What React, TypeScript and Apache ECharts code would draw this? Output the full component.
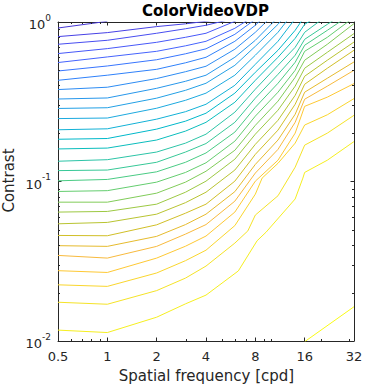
import { useEffect, useRef } from 'react';
import * as echarts from 'echarts';

// ---- Contour lines: [spatial frequency (cpd), contrast] ----
const line01 = [[0.5, 0.917], [1, 1.01]];
const line02 = [[0.5, 0.81], [1, 0.858], [2, 0.936], [3, 0.974], [4, 1.01], [6, 1.07]];
const line03 = [[0.5, 0.725], [1, 0.768], [2, 0.85], [3, 0.907], [4, 0.954], [6, 1.055]];
const line04 = [[0.5, 0.634], [1, 0.681], [2, 0.746], [3, 0.802], [4, 0.85], [6, 1.01], [8, 1.184]];
const line05 = [[0.5, 0.557], [1, 0.604], [2, 0.655], [3, 0.709], [4, 0.757], [6, 0.913], [8, 1.101]];
const line06 = [[0.5, 0.493], [1, 0.53], [2, 0.58], [3, 0.632], [4, 0.679], [6, 0.837], [8, 1.04]];
const line07 = [[0.5, 0.431], [1, 0.464], [2, 0.505], [3, 0.555], [4, 0.601], [6, 0.757], [8, 0.954], [11, 1.31]];
const line08 = [[0.5, 0.377], [1, 0.39], [2, 0.442], [3, 0.488], [4, 0.528], [6, 0.675], [8, 0.862], [11, 1.184]];
const line09 = [[0.5, 0.329], [1, 0.334], [2, 0.384], [3, 0.425], [4, 0.464], [6, 0.601], [8, 0.768], [11, 1.07], [14, 1.368]];
const line10 = [[0.5, 0.287], [1, 0.29], [2, 0.333], [3, 0.373], [4, 0.413], [6, 0.535], [8, 0.704], [11, 0.967], [14, 1.29]];
const line11 = [[0.5, 0.248], [1, 0.25], [2, 0.288], [3, 0.323], [4, 0.358], [6, 0.464], [8, 0.619], [11, 0.862], [14, 1.184]];
const line12 = [[0.5, 0.211], [1, 0.214], [2, 0.246], [3, 0.274], [4, 0.305], [6, 0.401], [8, 0.543], [11, 0.757], [14, 1.047]];
const line13 = [[0.5, 0.184], [1, 0.186], [2, 0.213], [3, 0.239], [4, 0.268], [6, 0.358], [8, 0.484], [11, 0.665], [14, 0.887], [16, 1.086]];
const line14 = [[0.5, 0.16], [1, 0.162], [2, 0.182], [3, 0.207], [4, 0.235], [6, 0.314], [8, 0.431], [11, 0.601], [14, 0.79], [16, 0.967], [22, 1.184]];
const line15 = [[0.5, 0.134], [1, 0.137], [2, 0.153], [3, 0.174], [4, 0.198], [6, 0.272], [8, 0.379], [11, 0.535], [14, 0.694], [16, 0.862], [22, 1.101]];
const line16 = [[0.5, 0.117], [1, 0.118], [2, 0.132], [3, 0.153], [4, 0.173], [6, 0.235], [8, 0.333], [11, 0.47], [14, 0.619], [16, 0.779], [22, 0.967], [32, 1.236]];
const line17 = [[0.5, 0.101], [1, 0.103], [2, 0.115], [3, 0.132], [4, 0.151], [6, 0.204], [8, 0.292], [11, 0.413], [14, 0.559], [16, 0.715], [22, 0.887], [32, 1.15]];
const line18 = [[0.5, 0.0866], [1, 0.0876], [2, 0.0991], [3, 0.114], [4, 0.131], [6, 0.179], [8, 0.257], [11, 0.363], [14, 0.498], [16, 0.655], [22, 0.802], [32, 1.07]];
const line19 = [[0.5, 0.0742], [1, 0.0742], [2, 0.0845], [3, 0.0991], [4, 0.116], [6, 0.157], [8, 0.225], [11, 0.319], [14, 0.45], [16, 0.576], [22, 0.725], [32, 0.977]];
const line20 = [[0.5, 0.0643], [1, 0.0649], [2, 0.0721], [3, 0.0857], [4, 0.1005], [6, 0.138], [8, 0.198], [11, 0.28], [14, 0.396], [16, 0.513], [22, 0.646], [32, 0.846]];
const line21 = [[0.5, 0.0543], [1, 0.0554], [2, 0.0624], [3, 0.0737], [4, 0.0857], [6, 0.118], [8, 0.171], [11, 0.242], [14, 0.347], [16, 0.457], [22, 0.576], [32, 0.749]];
const line22 = [[0.5, 0.0459], [1, 0.0457], [2, 0.0535], [3, 0.0633], [4, 0.0721], [6, 0.1005], [8, 0.148], [11, 0.21], [14, 0.305], [16, 0.407], [22, 0.513], [32, 0.665]];
const line23 = [[0.5, 0.0396], [1, 0.0392], [2, 0.0453], [3, 0.0537], [4, 0.0624], [6, 0.0864], [8, 0.128], [11, 0.182], [14, 0.264], [16, 0.363], [22, 0.444], [32, 0.562]];
const line24 = [[0.5, 0.0344], [1, 0.0331], [2, 0.0392], [3, 0.0468], [4, 0.0537], [6, 0.0753], [8, 0.113], [11, 0.159], [14, 0.235], [16, 0.328], [22, 0.396], [32, 0.498]];
const line25 = [[0.5, 0.0276], [1, 0.0269], [2, 0.0331], [3, 0.0393], [4, 0.0455], [6, 0.0643], [8, 0.1005], [11, 0.136], [14, 0.201], [16, 0.296], [22, 0.338], [32, 0.411]];
const line26 = [[0.5, 0.0225], [1, 0.022], [2, 0.0267], [3, 0.0319], [4, 0.0371], [6, 0.0529], [8, 0.0833], [8.8, 0.105], [11, 0.13], [14, 0.174], [16, 0.226], [22, 0.262], [32, 0.331]];
const line27 = [[0.5, 0.0175], [1, 0.017], [2, 0.0207], [3, 0.0248], [4, 0.0295], [6, 0.0411], [7.2, 0.049], [8, 0.0616], [11, 0.0814], [14, 0.123], [16, 0.169], [22, 0.201], [32, 0.26]];
const line28 = [[0.5, 0.0117], [1, 0.0113], [2, 0.0141], [3, 0.0171], [4, 0.0194], [6.3, 0.0275], [8.2, 0.0425], [9.3, 0.0481], [14, 0.0777], [15.6, 0.105], [16, 0.114], [22, 0.136], [32, 0.178]];
const line29 = [[16, 0.0099], [32, 0.0164]];

const contours = [
  line01, line02, line03, line04, line05, line06, line07, line08, line09, line10,
  line11, line12, line13, line14, line15, line16, line17, line18, line19, line20,
  line21, line22, line23, line24, line25, line26, line27, line28, line29,
];

// ---- Axis ticks ----
const xMajorTicks = [0.5, 1, 2, 4, 8, 16, 32];
const yMajorTicks = [0.01, 0.1, 1];
const xMinorTicks = [0.6, 0.7, 0.8, 0.9, 3, 5, 6, 7, 9, 10, 20, 30];
const yMinorTicks = [0.02, 0.03, 0.04, 0.05, 0.06, 0.07, 0.08, 0.09, 0.2, 0.3, 0.4, 0.5, 0.6, 0.7, 0.8, 0.9];

// ---- Colormap (parula, 64) ----
const PARULA = [
  [0.2422, 0.1504, 0.6603], [0.2504, 0.165, 0.7076], [0.2578, 0.1818, 0.7511], [0.2647, 0.1978, 0.7952],
  [0.2706, 0.2147, 0.8364], [0.2751, 0.2342, 0.871], [0.2783, 0.2559, 0.8991], [0.2803, 0.2782, 0.9221],
  [0.2813, 0.3006, 0.9414], [0.281, 0.3228, 0.9579], [0.2795, 0.3447, 0.9717], [0.276, 0.3667, 0.9829],
  [0.2699, 0.3892, 0.9906], [0.2602, 0.4123, 0.9952], [0.244, 0.4358, 0.9988], [0.2206, 0.4603, 0.9973],
  [0.1963, 0.4847, 0.9892], [0.1834, 0.5074, 0.9798], [0.1786, 0.5289, 0.9682], [0.1764, 0.5499, 0.952],
  [0.1687, 0.5703, 0.9359], [0.154, 0.5902, 0.9218], [0.146, 0.6091, 0.9079], [0.138, 0.6276, 0.8973],
  [0.1248, 0.6459, 0.8883], [0.1113, 0.6635, 0.8763], [0.0952, 0.6798, 0.8598], [0.0689, 0.6948, 0.8394],
  [0.0297, 0.7082, 0.8163], [0.0036, 0.7203, 0.7917], [0.0067, 0.7312, 0.766], [0.0433, 0.7411, 0.7394],
  [0.0964, 0.75, 0.712], [0.1408, 0.7584, 0.6842], [0.1717, 0.767, 0.6554], [0.1938, 0.7758, 0.6251],
  [0.2161, 0.7843, 0.5923], [0.247, 0.7918, 0.5567], [0.2906, 0.7973, 0.5188], [0.3406, 0.8008, 0.4789],
  [0.3909, 0.8029, 0.4354], [0.4456, 0.8024, 0.3909], [0.5044, 0.7993, 0.348], [0.5616, 0.7942, 0.3045],
  [0.6174, 0.7876, 0.2612], [0.672, 0.7793, 0.2227], [0.7242, 0.7698, 0.191], [0.7738, 0.7598, 0.1646],
  [0.8203, 0.7498, 0.1535], [0.8634, 0.7406, 0.1596], [0.9035, 0.733, 0.1774], [0.9393, 0.7288, 0.21],
  [0.9728, 0.7298, 0.2394], [0.9956, 0.7434, 0.2371], [0.997, 0.7659, 0.2199], [0.9952, 0.7893, 0.2028],
  [0.9892, 0.8136, 0.1885], [0.9786, 0.8386, 0.1766], [0.9676, 0.8639, 0.1643], [0.961, 0.889, 0.1537],
  [0.9597, 0.9135, 0.1423], [0.9628, 0.9373, 0.1265], [0.9691, 0.9606, 0.1064], [0.9769, 0.9839, 0.0805],
];

function parula(idx: number): string {
  const [r, g, b] = PARULA[Math.max(0, Math.min(63, Math.round(idx)))];
  return `rgb(${Math.round(r * 255)},${Math.round(g * 255)},${Math.round(b * 255)})`;
}

const AXIS = '#262626';
const FONT = 'DejaVu Sans';

export default function App() {
  const ref = useRef<HTMLDivElement>(null);

  useEffect(() => {
    if (!ref.current) return;
    const chart = echarts.init(ref.current, null, { renderer: 'svg' });

    const xMin = xMajorTicks[0];
    const xMax = xMajorTicks[xMajorTicks.length - 1];
    const yMin = yMajorTicks[0];
    const yMax = yMajorTicks[yMajorTicks.length - 1];
    const n = contours.length;
    const MAJOR = 3.5;
    const MINOR = 2;

    const lineSeries = contours.map((data, i) => ({
      type: 'line',
      data,
      xAxisIndex: 0,
      yAxisIndex: 0,
      symbol: 'none',
      showSymbol: false,
      silent: true,
      clip: true,
      z: 2,
      lineStyle: { width: 1, color: parula(4 + (i * 59) / (n - 1)) },
    }));

    const xMinorSeries = {
      type: 'custom',
      xAxisIndex: 0,
      yAxisIndex: 0,
      silent: true,
      clip: false,
      z: 5,
      data: xMinorTicks.map((v) => [v, yMin]),
      renderItem: (_p: any, api: any) => {
        const v = api.value(0);
        const b = api.coord([v, yMin]);
        const t = api.coord([v, yMax]);
        const x = Math.round(b[0]) + 0.5;
        return {
          type: 'group',
          children: [
            { type: 'line', shape: { x1: x, y1: b[1], x2: x, y2: b[1] - MINOR }, style: { stroke: AXIS, lineWidth: 1 } },
            { type: 'line', shape: { x1: x, y1: t[1], x2: x, y2: t[1] + MINOR }, style: { stroke: AXIS, lineWidth: 1 } },
          ],
        };
      },
    };

    const yMinorSeries = {
      type: 'custom',
      xAxisIndex: 0,
      yAxisIndex: 0,
      silent: true,
      clip: false,
      z: 5,
      data: yMinorTicks.map((v) => [xMin, v]),
      renderItem: (_p: any, api: any) => {
        const v = api.value(1);
        const l = api.coord([xMin, v]);
        const r = api.coord([xMax, v]);
        const y = Math.round(l[1]) + 0.5;
        return {
          type: 'group',
          children: [
            { type: 'line', shape: { x1: l[0], y1: y, x2: l[0] + MINOR, y2: y }, style: { stroke: AXIS, lineWidth: 1 } },
            { type: 'line', shape: { x1: r[0], y1: y, x2: r[0] - MINOR, y2: y }, style: { stroke: AXIS, lineWidth: 1 } },
          ],
        };
      },
    };

    const baseX = {
      type: 'log',
      logBase: 2,
      min: xMin,
      max: xMax,
      splitLine: { show: false },
      minorTick: { show: false },
      axisLine: { show: true, onZero: false, lineStyle: { color: AXIS, width: 1 } },
      axisTick: { show: true, inside: true, length: MAJOR, lineStyle: { color: AXIS, width: 1 } },
    };
    const baseY = {
      type: 'log',
      logBase: 10,
      min: yMin,
      max: yMax,
      splitLine: { show: false },
      minorTick: { show: false },
      axisLine: { show: true, onZero: false, lineStyle: { color: AXIS, width: 1 } },
      axisTick: { show: true, inside: true, length: MAJOR, lineStyle: { color: AXIS, width: 1 } },
    };

    chart.setOption({
      animation: false,
      backgroundColor: '#ffffff',
      grid: { left: 58, right: 11, top: 22, bottom: 46, containLabel: false, outerBoundsMode: 'none' },
      xAxis: [
        {
          ...baseX,
          position: 'bottom',
          axisLabel: {
            show: true,
            margin: 9,
            color: AXIS,
            fontFamily: FONT,
            fontSize: 13,
            showMinLabel: true,
            showMaxLabel: true,
            hideOverlap: false,
            formatter: (v: number) => {
              const val = Number(v.toPrecision(6));
              return xMajorTicks.some((t) => Math.abs(t - val) < 1e-6) ? String(val) : '';
            },
          },
        },
        { ...baseX, position: 'top', axisLabel: { show: false } },
      ],
      yAxis: [
        {
          ...baseY,
          position: 'left',
          axisLabel: {
            show: true,
            margin: 7,
            color: AXIS,
            fontFamily: FONT,
            showMinLabel: true,
            showMaxLabel: true,
            hideOverlap: false,
            formatter: (v: number) => `{b|10}{s|${Math.round(Math.log10(v))}}`,
            rich: {
              b: { fontSize: 13, lineHeight: 18, verticalAlign: 'bottom', fontFamily: FONT, color: AXIS },
              s: { fontSize: 9, lineHeight: 11, verticalAlign: 'top', fontFamily: FONT, color: AXIS },
            },
          },
        },
        { ...baseY, position: 'right', axisLabel: { show: false } },
      ],
      series: [...lineSeries, xMinorSeries, yMinorSeries],
      graphic: [
        {
          type: 'text',
          x: 205.5,
          y: 10.7,
          silent: true,
          style: { text: 'ColorVideoVDP', fontFamily: FONT, fontWeight: 'bold', fontSize: 15, fill: '#000000', align: 'center', verticalAlign: 'middle' },
        },
        {
          type: 'text',
          x: 206.5,
          y: 376.4,
          silent: true,
          style: { text: 'Spatial frequency [cpd]', fontFamily: FONT, fontSize: 15, fill: AXIS, align: 'center', verticalAlign: 'middle' },
        },
        {
          type: 'text',
          x: 9.3,
          y: 180.5,
          rotation: Math.PI / 2,
          silent: true,
          style: { text: 'Contrast', fontFamily: FONT, fontSize: 15, fill: AXIS, align: 'center', verticalAlign: 'middle' },
        },
      ],
    });

    return () => chart.dispose();
  }, []);

  return <div ref={ref} style={{ position: 'absolute', left: 0, top: 0, width: 365, height: 387 }} />;
}
